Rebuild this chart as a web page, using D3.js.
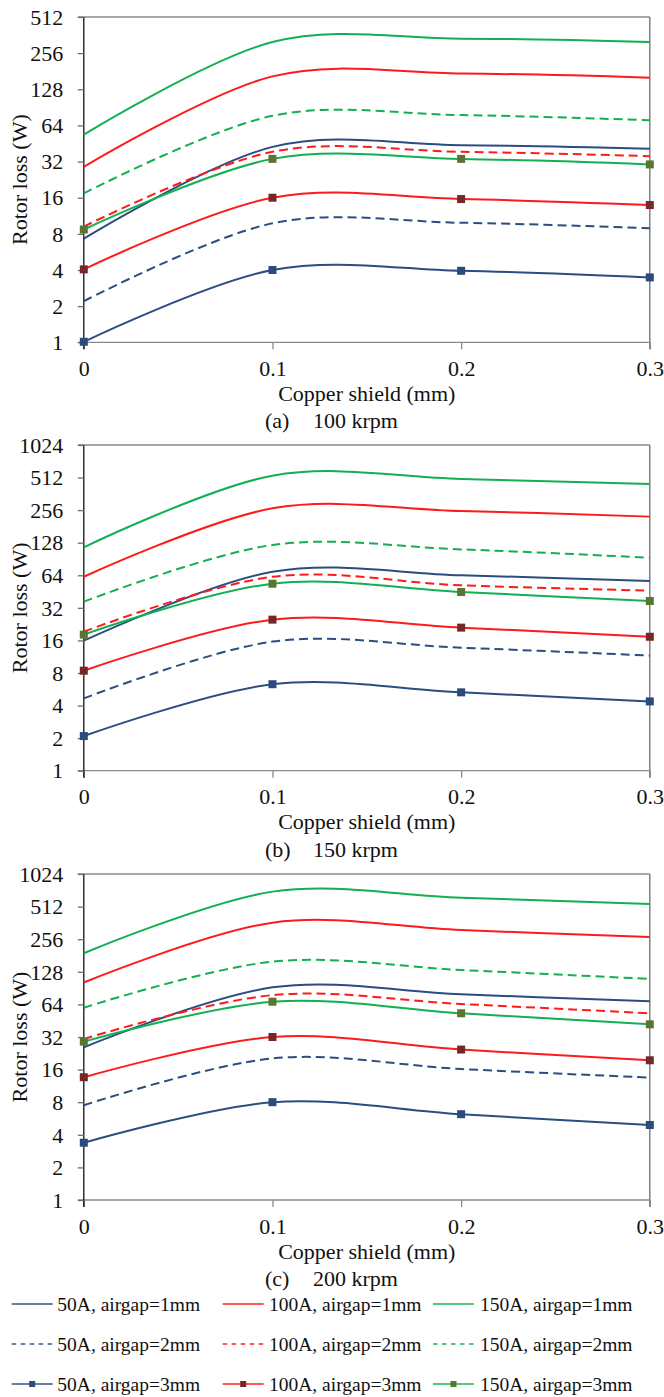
<!DOCTYPE html>
<html>
<head>
<meta charset="utf-8">
<script src="https://cdn.jsdelivr.net/npm/d3@7"></script>
<style>
  html, body { margin: 0; padding: 0; background: #fff; }
  svg { display: block; }
  svg text { font-family: "Liberation Serif", "Tinos", "Times New Roman", serif; }
</style>
</head>
<body>
<svg id="chart" width="664" height="1397"></svg>
<script>
// ---------- DATA ----------
const thickness = [0, 0.1, 0.2, 0.3];          // copper shield (mm)
const xTickValues = [0, 0.1, 0.2, 0.3];
const xTickLabels = ["0", "0.1", "0.2", "0.3"];
const yTicksA = [1, 2, 4, 8, 16, 32, 64, 128, 256, 512];
const yTicksBC = [1, 2, 4, 8, 16, 32, 64, 128, 256, 512, 1024];

const seriesNames = [
  "50A, airgap=1mm", "100A, airgap=1mm", "150A, airgap=1mm",
  "50A, airgap=2mm", "100A, airgap=2mm", "150A, airgap=2mm",
  "50A, airgap=3mm", "100A, airgap=3mm", "150A, airgap=3mm"
];

// (a) 100 krpm
const k100_50A_1mm  = [7.3, 42.4, 43.8, 41];
const k100_100A_1mm = [28.9, 164, 173, 160];
const k100_150A_1mm = [53.7, 317, 338, 317];
const k100_50A_2mm  = [2.2, 9.8, 9.9, 8.9];
const k100_100A_2mm = [9.2, 38.6, 38.6, 35.5];
const k100_150A_2mm = [17.4, 77, 78, 70.7];
const k100_50A_3mm  = [1.01, 4.0, 3.94, 3.47];
const k100_100A_3mm = [4.05, 16, 15.6, 13.9];
const k100_150A_3mm = [8.7, 33.7, 33.7, 30.3];

// (b) 150 krpm
const k150_50A_1mm  = [15.9, 69, 64, 56.6];
const k150_100A_1mm = [62, 266, 251, 223];
const k150_150A_1mm = [116, 533, 497, 446];
const k150_50A_2mm  = [4.66, 15.6, 13.7, 11.6];
const k150_100A_2mm = [19.3, 62, 51.7, 46.1];
const k150_150A_2mm = [36.5, 122, 111, 93];
const k150_50A_3mm  = [2.09, 6.3, 5.3, 4.37];
const k150_100A_3mm = [8.4, 24.9, 21, 17.3];
const k150_150A_3mm = [18.1, 53.5, 44.8, 37];

// (c) 200 krpm
const k200_50A_1mm  = [25.7, 92, 79.3, 68.3];
const k200_100A_1mm = [102, 364, 311, 268];
const k200_150A_1mm = [190, 704, 618, 541];
const k200_50A_2mm  = [7.5, 20.3, 16.2, 13.5];
const k200_100A_2mm = [30.7, 78, 64.6, 53];
const k200_150A_2mm = [59.7, 159, 133, 110];
const k200_50A_3mm  = [3.38, 8, 6.2, 4.93];
const k200_100A_3mm = [13.6, 32, 24.5, 19.5];
const k200_150A_3mm = [29, 67.8, 53, 41.9];

const panelLabels = ["(a)", "(b)", "(c)"];
const panelSpeeds = ["100 krpm", "150 krpm", "200 krpm"];
const xTitle = "Copper shield (mm)";
const yTitle = "Rotor loss (W)";

// ---------- STYLES ----------
const FS = "22px";
const LFS = "19.5px";
const lineColors = ["#2c4d80", "#ff1a1a", "#12b052"];
const markerColors = ["#2a4b7c", "#74282a", "#5b7431"];
const dashFor = [null, "9,5", null];

const panels = [
  { top: 17, bottom: 342.3, ticks: yTicksA, max: 512,
    data: [k100_50A_1mm, k100_100A_1mm, k100_150A_1mm, k100_50A_2mm, k100_100A_2mm, k100_150A_2mm, k100_50A_3mm, k100_100A_3mm, k100_150A_3mm] },
  { top: 445, bottom: 770.7, ticks: yTicksBC, max: 1024,
    data: [k150_50A_1mm, k150_100A_1mm, k150_150A_1mm, k150_50A_2mm, k150_100A_2mm, k150_150A_2mm, k150_50A_3mm, k150_100A_3mm, k150_150A_3mm] },
  { top: 874, bottom: 1200, ticks: yTicksBC, max: 1024,
    data: [k200_50A_1mm, k200_100A_1mm, k200_150A_1mm, k200_50A_2mm, k200_100A_2mm, k200_150A_2mm, k200_50A_3mm, k200_100A_3mm, k200_150A_3mm] }
];

const svg = d3.select("#chart");
const left = 83.8, right = 649.8;
const x = d3.scaleLinear().domain([0, 0.3]).range([left, right]);

panels.forEach((p, pi) => {
  const g = svg.append("g");
  const y = d3.scaleLog().base(2).domain([1, p.max]).range([p.bottom, p.top]);

  g.append("line").attr("x1", left - 6).attr("x2", right).attr("y1", y(p.max)).attr("y2", y(p.max))
    .attr("stroke", "#8a8a8a").attr("stroke-width", 1.3);
  g.append("line").attr("x1", right).attr("x2", right).attr("y1", y(p.max)).attr("y2", p.bottom + 7)
    .attr("stroke", "#6e6e6e").attr("stroke-width", 1.3);

  const xAxis = d3.axisBottom(x).tickValues(xTickValues).tickFormat((d, i) => xTickLabels[i])
    .tickSize(7).tickSizeOuter(0).tickPadding(11);
  const gx = g.append("g").attr("transform", `translate(0,${p.bottom})`).call(xAxis)
    .attr("font-family", null).attr("font-size", null);
  gx.select(".domain").attr("stroke", "#8a8a8a").attr("stroke-width", 1.3)
    .attr("d", `M${left - 6},0H${right}`);
  gx.selectAll(".tick line").attr("stroke", "#8a8a8a").attr("stroke-width", 1.3);
  gx.selectAll(".tick text").style("font-size", FS).attr("fill", "#111");

  const yAxis = d3.axisLeft(y).tickValues(p.ticks).tickFormat(d3.format("d"))
    .tickSize(6).tickSizeOuter(0).tickPadding(14.5);
  const gy = g.append("g").attr("transform", `translate(${left},0)`).call(yAxis)
    .attr("font-family", null).attr("font-size", null);
  gy.select(".domain").attr("stroke", "#111").attr("stroke-width", 1.3)
    .attr("d", `M0,${p.top}V${p.bottom + 7}`);
  gy.selectAll(".tick line").attr("stroke", "#6e6e6e").attr("stroke-width", 1.3);
  gy.selectAll(".tick text").style("font-size", FS).attr("fill", "#111").attr("dy", "0.33em");

  g.append("text").attr("x", (left + right) / 2).attr("y", p.bottom + 58.5)
    .attr("text-anchor", "middle").style("font-size", FS).attr("fill", "#111").text(xTitle);
  g.append("text").attr("transform", `translate(27,${(p.top + p.bottom) / 2}) rotate(-90)`)
    .attr("text-anchor", "middle").style("font-size", FS).attr("fill", "#111").text(yTitle);

  g.append("text").attr("x", 265).attr("y", p.bottom + 86).style("font-size", FS).attr("fill", "#111")
    .text(panelLabels[pi]);
  g.append("text").attr("x", 313).attr("y", p.bottom + 86).style("font-size", FS).attr("fill", "#111")
    .text(panelSpeeds[pi]);

  const line = d3.line().x((d, i) => x(thickness[i])).y(d => y(d)).curve(d3.curveCardinal.tension(0));
  p.data.forEach((vals, si) => {
    const c = si % 3, gap = Math.floor(si / 3);
    g.append("path").attr("d", line(vals)).attr("fill", "none")
      .attr("stroke", lineColors[c]).attr("stroke-width", 2)
      .attr("stroke-dasharray", dashFor[gap]);
  });
  p.data.forEach((vals, si) => {
    const c = si % 3, gap = Math.floor(si / 3);
    if (gap !== 2) return;
    g.selectAll(null).data(vals).enter().append("rect")
      .attr("x", (d, i) => x(thickness[i]) - 4).attr("y", d => y(d) - 4)
      .attr("width", 8).attr("height", 8).attr("fill", markerColors[c]);
  });
});

const legCols = [{ lx: 11.7, tx: 57.3 }, { lx: 222.7, tx: 269 }, { lx: 433, tx: 480 }];
const legRows = [1304, 1344, 1384];
seriesNames.forEach((name, si) => {
  const c = si % 3, gap = Math.floor(si / 3);
  const col = legCols[c], ry = legRows[gap];
  const lg = svg.append("g");
  lg.append("line").attr("x1", col.lx).attr("x2", col.lx + 41).attr("y1", ry).attr("y2", ry)
    .attr("stroke", lineColors[c]).attr("stroke-width", 2).attr("stroke-opacity", 0.72)
    .attr("stroke-dasharray", gap === 1 ? "4.5,4.5" : null);
  if (gap === 2) {
    lg.append("rect").attr("x", col.lx + 20.5 - 3).attr("y", ry - 3).attr("width", 6).attr("height", 6)
      .attr("fill", markerColors[c]);
  }
  lg.append("text").attr("x", col.tx).attr("y", ry + 7).style("font-size", LFS).attr("fill", "#111").text(name);
});
</script>
</body>
</html>
